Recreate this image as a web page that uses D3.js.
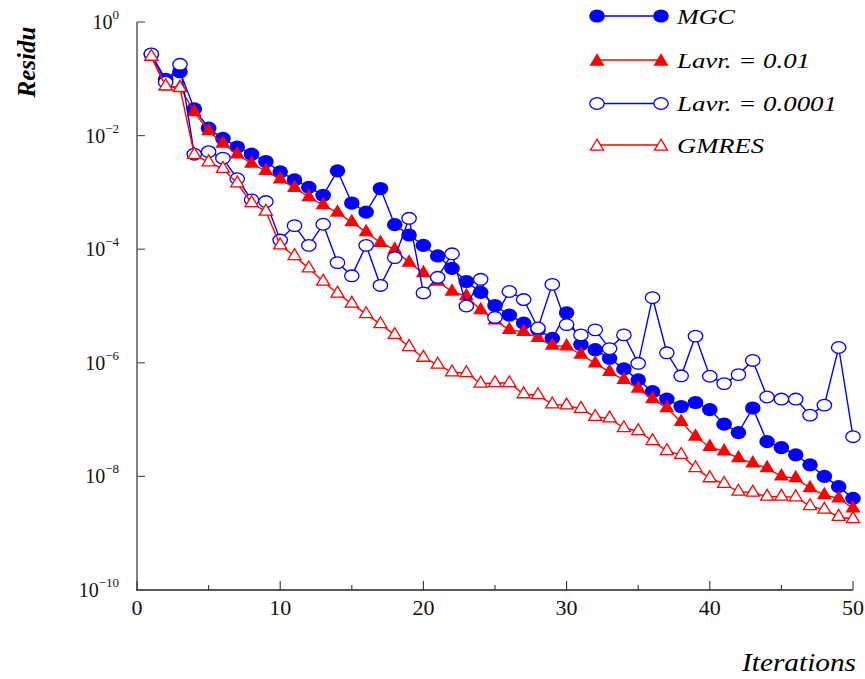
<!DOCTYPE html>
<html>
<head>
<meta charset="utf-8">
<script src="https://cdn.jsdelivr.net/npm/d3@7"></script>
<style>
  html, body { margin: 0; padding: 0; background: #fff; }
  svg text { font-family: "Liberation Serif", "Times New Roman", serif; }
</style>
</head>
<body>
<svg id="chart" width="865" height="679"></svg>
<script>
// ---------- data ----------
const iterations = d3.range(1, 51);

const mgc = [2.7e-1, 9.8e-2, 1.33e-1, 2.95e-2, 1.35e-2, 8.9e-3, 6.3e-3, 4.7e-3, 3.5e-3, 2.3e-3,
             1.66e-3, 1.23e-3, 8.9e-4, 2.4e-3, 6.5e-4, 4.5e-4, 1.17e-3, 2.7e-4, 1.78e-4, 1.17e-4,
             7.6e-5, 4.6e-5, 2.7e-5, 1.74e-5, 1.02e-5, 6.9e-6, 5.0e-6, 3.8e-6, 2.7e-6, 7.6e-6,
             2.1e-6, 1.7e-6, 1.2e-6, 7.8e-7, 5.0e-7, 3.1e-7, 2.3e-7, 1.7e-7, 2.0e-7, 1.5e-7,
             8.3e-8, 5.9e-8, 1.6e-7, 4.1e-8, 3.2e-8, 2.4e-8, 1.6e-8, 1.0e-8, 6.6e-9, 4.1e-9];

const lavr001 = [2.45e-1, 7.4e-2, 7.1e-2, 2.6e-2, 1.2e-2, 7.2e-3, 4.7e-3, 3.2e-3, 2.4e-3, 1.7e-3,
                 1.2e-3, 8.3e-4, 6.0e-4, 4.4e-4, 3.0e-4, 2.0e-4, 1.3e-4, 9.8e-5, 5.8e-5, 3.8e-5,
                 2.7e-5, 1.8e-5, 1.5e-5, 8.5e-6, 5.6e-6, 3.8e-6, 3.5e-6, 2.75e-6, 2.0e-6, 1.95e-6,
                 1.4e-6, 9.8e-7, 6.9e-7, 5.0e-7, 3.5e-7, 2.3e-7, 1.6e-7, 9.1e-8, 5.0e-8, 3.3e-8,
                 2.75e-8, 2.1e-8, 1.7e-8, 1.4e-8, 1.0e-8, 9.3e-9, 6.2e-9, 4.7e-9, 4.1e-9, 2.75e-9];

const lavr00001 = [2.75e-1, 8.7e-2, 1.8e-1, 4.7e-3, 5.2e-3, 4.0e-3, 1.74e-3, 7.4e-4, 6.9e-4, 1.45e-4,
                   2.6e-4, 1.17e-4, 2.75e-4, 5.8e-5, 3.4e-5, 1.17e-4, 2.3e-5, 7.1e-5, 3.5e-4, 1.7e-5,
                   3.2e-5, 8.3e-5, 1.0e-5, 2.95e-5, 6.3e-6, 1.8e-5, 1.3e-5, 4.1e-6, 2.4e-5, 4.7e-6,
                   3.1e-6, 3.8e-6, 1.78e-6, 3.1e-6, 9.8e-7, 1.4e-5, 1.5e-6, 5.9e-7, 2.95e-6, 5.8e-7,
                   4.3e-7, 6.2e-7, 1.1e-6, 2.5e-7, 2.3e-7, 2.3e-7, 1.2e-7, 1.8e-7, 1.86e-6, 5.0e-8];

const gmres = [2.45e-1, 7.4e-2, 6.9e-2, 4.6e-3, 3.4e-3, 2.6e-3, 1.45e-3, 6.5e-4, 4.6e-4, 1.17e-4,
               7.6e-5, 4.6e-5, 2.7e-5, 1.66e-5, 1.1e-5, 7.2e-6, 4.8e-6, 3.1e-6, 1.9e-6, 1.23e-6,
               9.3e-7, 6.8e-7, 6.6e-7, 4.3e-7, 4.4e-7, 4.4e-7, 2.8e-7, 2.7e-7, 1.86e-7, 1.78e-7,
               1.55e-7, 1.12e-7, 1.05e-7, 7.1e-8, 6.3e-8, 4.2e-8, 2.8e-8, 2.4e-8, 1.4e-8, 9.3e-9,
               7.4e-9, 5.4e-9, 5.2e-9, 4.4e-9, 4.4e-9, 4.3e-9, 3.0e-9, 2.6e-9, 1.95e-9, 1.78e-9];

const seriesNames = ["MGC", "Lavr. = 0.01", "Lavr. = 0.0001", "GMRES"];
const xTicks = [0, 10, 20, 30, 40, 50];
const xMinorTicks = [5, 15, 25, 35, 45];
const yTickExponents = [0, -2, -4, -6, -8, -10];

// ---------- setup ----------
const svg = d3.select("#chart");
const x = d3.scaleLinear().domain([0, 50]).range([137, 853]);
const y = d3.scaleLog().domain([1e-10, 1]).range([590, 22]);

const BLUE = "#0000ff", RED = "#ff0000";
const styles = [
  { color: BLUE, marker: "circle", fill: BLUE },
  { color: RED, marker: "triangle", fill: RED },
  { color: BLUE, marker: "circle", fill: "#fff" },
  { color: RED, marker: "triangle", fill: "#fff" }
];
const allSeries = [mgc, lavr001, lavr00001, gmres];

function drawMarker(g, kind, fill, stroke) {
  if (kind === "circle") {
    if (fill === stroke) {
      g.append("ellipse").attr("rx", 7.8).attr("ry", 6.6).attr("fill", fill).attr("stroke", "none");
    } else {
      g.append("ellipse").attr("rx", 7.2).attr("ry", 5.8).attr("fill", fill)
        .attr("stroke", stroke).attr("stroke-width", 1.3);
    }
  } else {
    const w = 7.5, h = 12.5;
    const p = `M0,${-h * 2 / 3}L${w},${h / 3}L${-w},${h / 3}Z`;
    if (fill === stroke) {
      g.append("path").attr("d", p).attr("fill", fill);
    } else {
      g.append("path").attr("d", `M0,${-h * 2 / 3 + 1}L${w - 1},${h / 3 - 0.6}L${-w + 1},${h / 3 - 0.6}Z`)
        .attr("fill", fill).attr("stroke", stroke).attr("stroke-width", 1.3);
    }
  }
}

// ---------- axes ----------
const axisG = svg.append("g");
// y axis (grey)
axisG.append("line").attr("x1", x(0)).attr("x2", x(0)).attr("y1", y(1)).attr("y2", y(1e-10))
  .attr("stroke", "#808080").attr("stroke-width", 2);
yTickExponents.forEach(e => {
  if (e === -10) return;
  axisG.append("line").attr("x1", x(0)).attr("x2", x(0) + 8).attr("y1", y(Math.pow(10, e))).attr("y2", y(Math.pow(10, e)))
    .attr("stroke", "#555").attr("stroke-width", 1.2);
});
// x axis
axisG.append("line").attr("x1", x(0) - 1).attr("x2", x(50)).attr("y1", y(1e-10)).attr("y2", y(1e-10))
  .attr("stroke", "#222").attr("stroke-width", 1.4);
xTicks.forEach(t => {
  axisG.append("line").attr("x1", x(t)).attr("x2", x(t)).attr("y1", y(1e-10)).attr("y2", y(1e-10) - 9)
    .attr("stroke", "#333").attr("stroke-width", 1.1);
});
xMinorTicks.forEach(t => {
  axisG.append("line").attr("x1", x(t)).attr("x2", x(t)).attr("y1", y(1e-10)).attr("y2", y(1e-10) - 5)
    .attr("stroke", "#333").attr("stroke-width", 1.1);
});

// x tick labels
xTicks.forEach(t => {
  svg.append("text").attr("x", x(t)).attr("y", 615).attr("text-anchor", "middle")
    .attr("font-size", 22).attr("fill", "#111").text(t);
});

// y tick labels
yTickExponents.forEach(e => {
  const t = svg.append("text").attr("x", 119).attr("y", y(Math.pow(10, e)) + 7)
    .attr("text-anchor", "end").attr("font-size", 20).attr("fill", "#111");
  t.append("tspan").text("10");
  t.append("tspan").attr("dy", -10).attr("font-size", 13).text(e === 0 ? "0" : "\u2212" + Math.abs(e));
});

// axis titles
svg.append("text").attr("transform", "translate(35,62) rotate(-90)").attr("text-anchor", "middle")
  .attr("font-size", 25).attr("font-weight", "bold").attr("font-style", "italic").text("Residu");
svg.append("text").attr("x", 856).attr("y", 671).attr("text-anchor", "end")
  .attr("font-size", 25).attr("font-style", "italic").attr("textLength", 114)
  .attr("lengthAdjust", "spacingAndGlyphs").text("Iterations");

// ---------- series ----------
const line = d3.line().x((d, i) => x(iterations[i])).y(d => y(d));
allSeries.forEach((data, si) => {
  const st = styles[si];
  const g = svg.append("g");
  g.append("path").attr("d", line(data)).attr("fill", "none")
    .attr("stroke", st.color).attr("stroke-width", 1.4);
  data.forEach((v, i) => {
    const mg = g.append("g").attr("transform", `translate(${x(iterations[i])},${y(v)})`);
    drawMarker(mg, st.marker, st.fill, st.color);
  });
});

// ---------- legend ----------
const legendRows = [16, 60, 103.5, 145];
const legendTextW = [58, 133, 160, 87];
seriesNames.forEach((name, si) => {
  const st = styles[si];
  const ly = legendRows[si];
  const lg = svg.append("g");
  lg.append("line").attr("x1", 597).attr("x2", 661).attr("y1", ly).attr("y2", ly)
    .attr("stroke", st.color).attr("stroke-width", 1.4);
  [597, 661].forEach(px => {
    const mg = lg.append("g").attr("transform", `translate(${px},${ly + (st.marker === "triangle" ? 1.5 : 0)})`);
    drawMarker(mg, st.marker, st.fill, st.color);
  });
  lg.append("text").attr("x", 677).attr("y", ly + 7.8).attr("font-size", 22)
    .attr("font-style", "italic").attr("textLength", legendTextW[si])
    .attr("lengthAdjust", "spacingAndGlyphs").text(name);
});
</script>
</body>
</html>
